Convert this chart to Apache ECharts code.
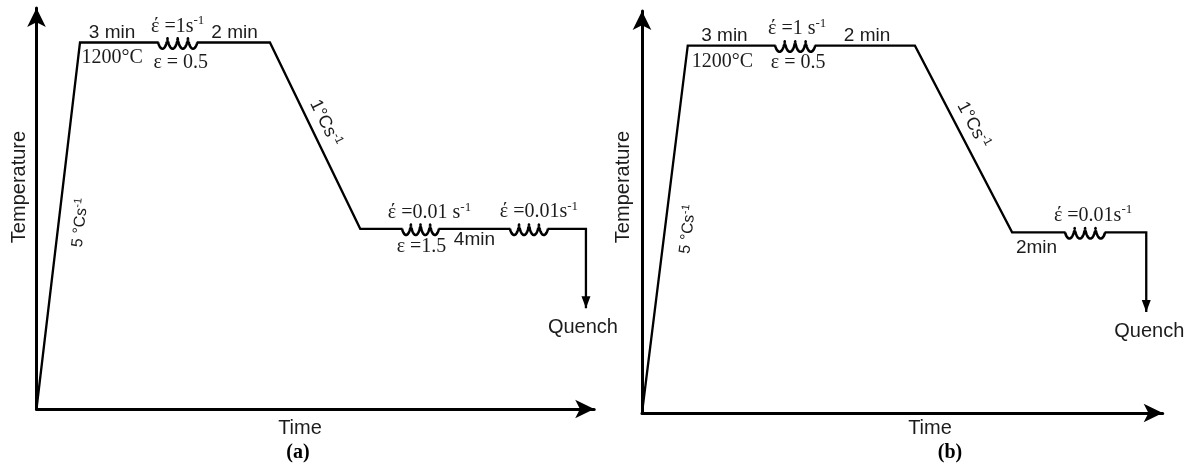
<!DOCTYPE html>
<html>
<head>
<meta charset="utf-8">
<script src="https://cdn.jsdelivr.net/npm/echarts@6/dist/echarts.min.js"></script>
<style>
  html, body { margin: 0; padding: 0; background: #fff; }
  #chart { width: 1192px; height: 470px; }
</style>
</head>
<body>
<div id="chart"></div>
<script>
// Thermomechanical schedules: (a) two deformation passes at low temperature,
// (b) a single pass. Temperature in °C, time in schematic units (not to scale).
const tempAxisMax = 1313;
const timeAxisMax = 101.3;

// Profile knots: origin, end of heating, end of reheat hold, end of cooling, end of final hold, quench
const timeA = [0, 7.9, 42.4, 58.8, 99.8, 99.8];
const tempA = [0, 1200, 1200, 590, 590, 330];
const timeB = [0, 8.9, 53.1, 72.0, 98.1, 98.1];
const tempB = [0, 1200, 1200, 590, 590, 330];

// Deformation passes drawn as springs: [start time, end time]
const passesA = [[22.1, 29.2], [66.4, 73.1], [86.0, 92.9]];
const passesB = [[25.9, 33.7], [82.3, 90.1]];

// Annotation texts
const holdLabelsA = ['3 min', '2 min', '4min'];
const holdLabelsB = ['3 min', '2 min', '2min'];
const rateLabelsA = ['έ =1s', 'έ =0.01 s', 'έ =0.01s'];
const rateLabelsB = ['έ =1 s', 'έ =0.01s'];
const strainLabelsA = ['ε = 0.5', 'ε =1.5'];
const strainLabelsB = ['ε = 0.5'];
const heatingRateLabel = '5 °Cs';
const coolingRateLabel = '1°Cs';
const quenchLabel = 'Quench';
const panelLabels = ['(a)', '(b)'];
const axisNames = ['Time', 'Temperature'];

const SANS = '"Liberation Sans", Arial, sans-serif';
const SERIF = '"Liberation Serif", "Times New Roman", serif';
const INK = '#1c1c1c';

function tempAt(times, temps, t) {
  for (let i = 0; i < times.length - 1; i++) {
    if (t >= times[i] && t <= times[i + 1] && times[i + 1] > times[i]) {
      const f = (t - times[i]) / (times[i + 1] - times[i]);
      return temps[i] + f * (temps[i + 1] - temps[i]);
    }
  }
  return temps[temps.length - 1];
}
const mid = (a, b) => (a + b) / 2;

function richSet(family, size, supSize) {
  return {
    m: { fontFamily: family, fontSize: size, fill: INK, lineHeight: size + 4 },
    sup: { fontFamily: family, fontSize: supSize, fill: INK, verticalAlign: 'top', lineHeight: supSize + 1 }
  };
}

// Spring glyph between two points on a hold line
function renderSpring(params, api) {
  const T = api.value(2);
  const p0 = api.coord([api.value(0), T]);
  const p1 = api.coord([api.value(1), T]);
  const L = p1[0] - p0[0];
  const turns = 7 * Math.PI;
  const th0 = Math.PI / 2;
  const k = 1.05;              // loop tightness
  const span = turns + 2 * k;  // horizontal extent in units of a
  const a = L / span, c = k * a;
  const pts = [];
  const n = 160;
  for (let i = 0; i <= n; i++) {
    const th = th0 + turns * i / n;
    const x = p0[0] + a * (th - th0) - c * (Math.sin(th) - Math.sin(th0));
    const cs = Math.cos(th);
    const y = p0[1] - (cs > 0 ? 4.2 : 6.2) * cs;
    pts.push([x, y]);
  }
  return {
    type: 'group',
    children: [
      { type: 'line', shape: { x1: p0[0] + 0.5, y1: p0[1], x2: p1[0] - 0.5, y2: p1[1] },
        style: { stroke: '#fff', lineWidth: 5 } },
      { type: 'polyline', shape: { points: pts },
        style: { stroke: '#000', lineWidth: 2.6, fill: null, lineJoin: 'round' } }
    ]
  };
}

function labelRenderer(specs) {
  return function (params, api) {
    const s = specs[params.dataIndex];
    const p = api.coord([api.value(0), api.value(1)]);
    let rot = 0;
    if (s.seg) {
      const q0 = api.coord(s.seg[0]);
      const q1 = api.coord(s.seg[1]);
      rot = -Math.atan2(q1[1] - q0[1], q1[0] - q0[0]);
    }
    const style = { text: s.text, align: 'center', verticalAlign: 'middle', fill: INK };
    if (s.rich) style.rich = s.rich;
    else style.font = s.font;
    return { type: 'text', x: p[0] + s.dx, y: p[1] + s.dy, rotation: rot, style: style };
  };
}

function sup(text, family, size, supSize) {
  return { text: '{m|' + text + '}{sup|-1}', rich: richSet(family, size, supSize) };
}

function buildSpecs(times, temps, passes, holds, rates, strains, layout) {
  const specs = [];
  const hot = temps[1];
  const cold = temps[3];
  const add = (t, T, content, off, seg) => {
    specs.push(Object.assign({ at: [t, T], dx: off[0], dy: off[1], seg: seg || null }, content));
  };
  const sansFont = '19px ' + SANS;
  const serifFont = '20px ' + SERIF;
  // reheat hold
  const holdMid = mid(times[1], passes[0][0]);
  add(holdMid, hot, { text: holds[0], font: sansFont }, layout.hold0);
  add(holdMid, hot, { text: hot + '°C', font: serifFont }, layout.reheat);
  const c0 = mid(passes[0][0], passes[0][1]);
  add(c0, hot, sup(rates[0], SERIF, 20, 13), layout.rate0);
  add(c0, hot, { text: strains[0], font: serifFont }, layout.strain0);
  add(mid(passes[0][1], times[2]), hot, { text: holds[1], font: sansFont }, layout.hold1);
  // heating and cooling slopes
  add(mid(times[0], times[1]), mid(temps[0], temps[1]), sup(heatingRateLabel, SANS, 16, 11),
      layout.heat, [[times[0], temps[0]], [times[1], temps[1]]]);
  add(mid(times[2], times[3]), mid(temps[2], temps[3]), sup(coolingRateLabel, SANS, 18, 12),
      layout.cool, [[times[2], temps[2]], [times[3], temps[3]]]);
  // low-temperature passes
  for (let i = 1; i < passes.length; i++) {
    const ci = mid(passes[i][0], passes[i][1]);
    add(ci, cold, sup(rates[i], SERIF, 20, 13), layout['rate' + i]);
    if (strains[i]) add(ci, cold, { text: strains[i], font: serifFont }, layout['strain' + i]);
  }
  const lastHoldStart = passes.length > 2 ? passes[1][1] : times[3];
  const lastHoldEnd = passes.length > 2 ? passes[2][0] : passes[1][0];
  add(mid(lastHoldStart, lastHoldEnd), cold, { text: holds[2], font: sansFont }, layout.hold2);
  add(times[times.length - 1], temps[temps.length - 1], { text: quenchLabel, font: '20px ' + SANS }, layout.quench);
  return specs;
}

const specsA = buildSpecs(timeA, tempA, passesA, holdLabelsA, rateLabelsA, strainLabelsA, {
  hold0: [-7, -10], reheat: [-7, 15], rate0: [0, -16], strain0: [3, 20], hold1: [1, -10],
  heat: [22, -3], cool: [10, -12.5],
  rate1: [9, -16], strain1: [1, 18], rate2: [10, -17], hold2: [0, 11], quench: [-3, 19]
});
const specsB = buildSpecs(timeB, tempB, passesB, holdLabelsB, rateLabelsB, strainLabelsB, {
  hold0: [-7, -10], reheat: [-9, 16], rate0: [2, -17], strain0: [3, 17], hold1: [2, -10],
  heat: [23, 0], cool: [9.5, -14],
  rate1: [8, -17], hold2: [-2, 15], quench: [3, 20]
});

function profileData(times, temps) {
  const last = times.length - 1;
  return times.map((t, i) => i === last
    ? { value: [t, temps[i]], symbol: 'path://M0,0L10,0L5,13Z', symbolSize: [9, 12], symbolOffset: [0, -6],
        itemStyle: { color: '#000' } }
    : [t, temps[i]]);
}

function axes(gridIndex) {
  const line = { show: true, onZero: false, symbol: ['none', 'arrow'], symbolSize: [14, 19],
                 lineStyle: { color: '#000', width: 3 } };
  return {
    x: { gridIndex, type: 'value', min: 0, max: timeAxisMax, axisLine: line,
         axisTick: { show: false }, axisLabel: { show: false }, splitLine: { show: false } },
    y: { gridIndex, type: 'value', min: 0, max: tempAxisMax, axisLine: line,
         axisTick: { show: false }, axisLabel: { show: false }, splitLine: { show: false } }
  };
}

function panelSeries(idx, times, temps, passes, specs) {
  return [
    { type: 'line', xAxisIndex: idx, yAxisIndex: idx, data: profileData(times, temps),
      symbol: 'circle', symbolSize: 0, showSymbol: true, showAllSymbol: true, animation: false, silent: true,
      lineStyle: { color: '#000', width: 2.3, join: 'miter', cap: 'butt' }, z: 3 },
    { type: 'custom', xAxisIndex: idx, yAxisIndex: idx, renderItem: renderSpring, silent: true, z: 4,
      encode: { x: [0, 1], y: 2 },
      data: passes.map(p => [p[0], p[1], tempAt(times, temps, mid(p[0], p[1]))]) },
    { type: 'custom', xAxisIndex: idx, yAxisIndex: idx, renderItem: labelRenderer(specs), silent: true, z: 5,
      encode: { x: 0, y: 1 },
      data: specs.map(s => s.at) }
  ];
}

const axA = axes(0), axB = axes(1);
const chart = echarts.init(document.getElementById('chart'), null, { renderer: 'canvas' });
chart.setOption({
  backgroundColor: '#fff',
  animation: false,
  grid: [
    { left: 36.5, top: 8, width: 557.7, height: 401 },
    { left: 642, top: 11, width: 520.7, height: 402 }
  ],
  xAxis: [axA.x, axB.x],
  yAxis: [axA.y, axB.y],
  series: [
    ...panelSeries(0, timeA, tempA, passesA, specsA),
    ...panelSeries(1, timeB, tempB, passesB, specsB)
  ],
  graphic: [
    { type: 'text', x: 19, y: 187, rotation: Math.PI / 2,
      style: { text: axisNames[1], font: '20px ' + SANS, fill: INK, align: 'center', verticalAlign: 'middle' } },
    { type: 'text', x: 623, y: 187, rotation: Math.PI / 2,
      style: { text: axisNames[1], font: '20px ' + SANS, fill: INK, align: 'center', verticalAlign: 'middle' } },
    { type: 'text', x: 300, y: 428,
      style: { text: axisNames[0], font: '20px ' + SANS, fill: INK, align: 'center', verticalAlign: 'middle' } },
    { type: 'text', x: 930, y: 428,
      style: { text: axisNames[0], font: '20px ' + SANS, fill: INK, align: 'center', verticalAlign: 'middle' } },
    { type: 'text', x: 298, y: 453,
      style: { text: panelLabels[0], font: 'bold 20px ' + SERIF, fill: '#000', align: 'center', verticalAlign: 'middle' } },
    { type: 'text', x: 950, y: 453,
      style: { text: panelLabels[1], font: 'bold 20px ' + SERIF, fill: '#000', align: 'center', verticalAlign: 'middle' } }
  ]
});
</script>
</body>
</html>
